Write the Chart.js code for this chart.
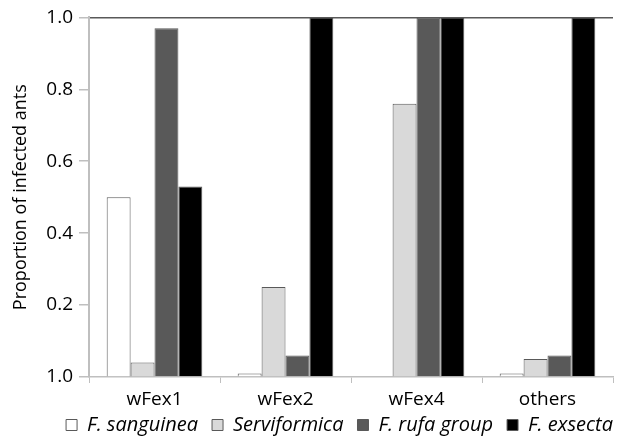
<!DOCTYPE html>
<html>
<head>
<meta charset="utf-8">
<script src="https://cdn.jsdelivr.net/npm/chart.js@4.4.0/dist/chart.umd.min.js"></script>
<style>
  html, body { margin: 0; padding: 0; background: #fff; }
  #wrap { width: 624px; height: 436px; }
</style>
</head>
<body>
<div id="wrap"><canvas id="myChart" width="624" height="436"></canvas></div>
<script>
const categories = ['wFex1', 'wFex2', 'wFex4', 'others'];
const seriesNames = ['F. sanguinea', 'Serviformica', 'F. rufa group', 'F. exsecta'];
const sanguinea = [0.50, 0.01, 0, 0.01];
const serviformica = [0.04, 0.25, 0.76, 0.05];
const rufaGroup = [0.97, 0.06, 1.0, 0.06];
const exsecta = [0.53, 1.0, 1.0, 1.0];
// the bottom tick really reads "1.0" in the original figure
const tickLabels = ['1.0', '0.2', '0.4', '0.6', '0.8', '1.0'];

const fills = ['#ffffff', '#d9d9d9', '#595959', '#000000'];
const font = 'Open Sans';

// legend in the original sits a bit right of the page centre
const legendOffset = {
    id: 'legendOffset',
    afterLayout(chart) {
        chart.legend.left += 33;
        chart.legend.right += 33;
    }
};

const ctx = document.getElementById('myChart').getContext('2d');
new Chart(ctx, {
    type: 'bar',
    data: {
        labels: categories,
        datasets: [sanguinea, serviformica, rufaGroup, exsecta].map((vals, i) => ({
            label: seriesNames[i],
            data: vals,
            backgroundColor: fills[i],
            borderColor: '#595959',
            borderWidth: 1,
            categoryPercentage: 0.73,
            barPercentage: 1.0
        }))
    },
    plugins: [legendOffset],
    options: {
        responsive: false,
        animation: false,
        layout: { padding: { left: 0, right: 11, top: 17, bottom: -9 } },
        plugins: {
            tooltip: { enabled: false },
            legend: {
                position: 'bottom',
                labels: {
                    color: '#000',
                    boxWidth: 11,
                    boxHeight: 11,
                    padding: 14,
                    font: { family: font, size: 20, style: 'italic' }
                }
            }
        },
        scales: {
            x: {
                afterFit: scale => { scale.height = 24; },
                grid: { drawOnChartArea: false, color: '#bfbfbf', tickLength: 6 },
                border: { color: '#bfbfbf', width: 1.5 },
                // mirror + negative padding so the labels are not clipped to the short axis box
                ticks: { color: '#000', mirror: true, padding: -34, font: { family: font, size: 19 } }
            },
            y: {
                min: 0,
                max: 1,
                afterFit: scale => { scale.width = 89; },
                grid: {
                    color: c => (c.tick && c.tick.value === 1 ? '#595959' : 'rgba(0,0,0,0)'),
                    lineWidth: 1.5,
                    tickColor: '#bfbfbf',
                    tickLength: 10
                },
                border: { color: '#bfbfbf', width: 2 },
                ticks: {
                    stepSize: 0.2,
                    color: '#000',
                    padding: 6,
                    font: { family: font, size: 19 },
                    callback: (value, index) => tickLabels[index]
                },
                title: {
                    display: true,
                    text: 'Proportion of infected ants',
                    color: '#000',
                    font: { family: font, size: 18 },
                    padding: { top: 10, bottom: 0 }
                }
            }
        }
    }
});
</script>
</body>
</html>
